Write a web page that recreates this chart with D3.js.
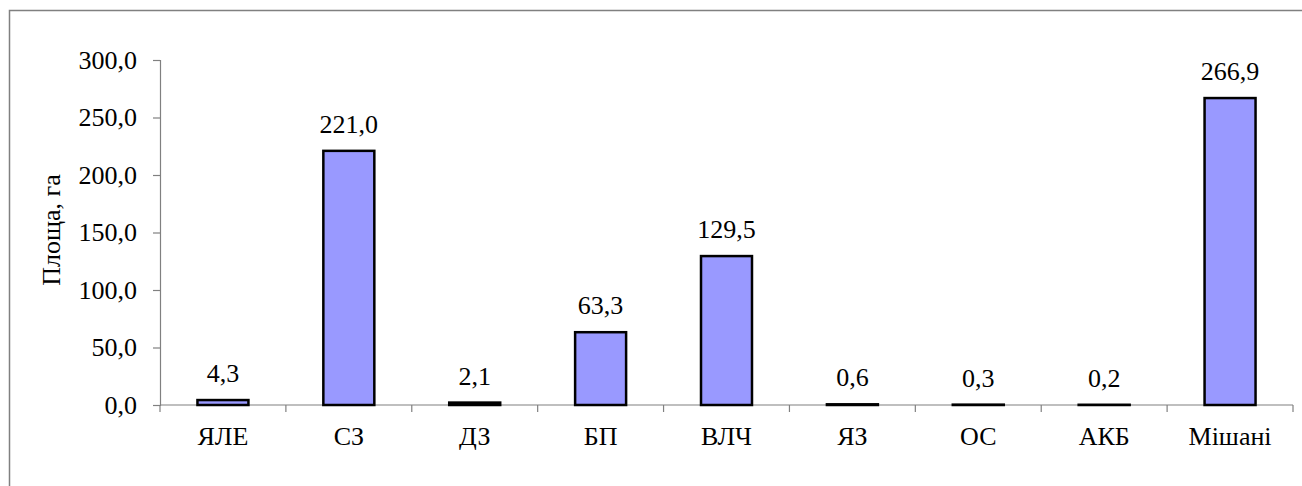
<!DOCTYPE html>
<html>
<head>
<meta charset="utf-8">
<script src="https://cdn.jsdelivr.net/npm/d3@7"></script>
<style>
  html, body { margin: 0; padding: 0; background: #fff; }
  svg { display: block; }
</style>
</head>
<body>
<svg id="chart" width="1302" height="486"></svg>
<script>
const categories = ["ЯЛЕ", "СЗ", "ДЗ", "БП", "ВЛЧ", "ЯЗ", "ОС", "АКБ", "Мішані"];
const values = [4.3, 221.0, 2.1, 63.3, 129.5, 0.6, 0.3, 0.2, 266.9];
const yTicks = [0, 50, 100, 150, 200, 250, 300];
const yTitle = "Площа, га";

(function () {
const svg = d3.select("#chart");
const FS = 26;
const FF = "'Liberation Serif', 'Times New Roman', serif";
const mLeft = 160, mRight = 1293, mTop = 60, mBottom = 405;

const locale = d3.formatLocale({ decimal: ",", thousands: " ", grouping: [3], currency: ["", ""] });
const fmt = locale.format(".1f");

// outer border
svg.append("rect")
  .attr("x", 9.5).attr("y", 10.5)
  .attr("width", 1320).attr("height", 500)
  .attr("fill", "none").attr("stroke", "#808080").attr("stroke-width", 1.5);

const x = d3.scaleBand().domain(categories).range([mLeft, mRight]).paddingInner(0).paddingOuter(0);
const y = d3.scaleLinear().domain([0, 300]).range([mBottom, mTop]);
const bw = x.bandwidth();
const barW = bw * 0.405;

// y axis
const yAxis = d3.axisLeft(y).tickValues(yTicks).tickFormat(fmt).tickSize(7).tickPadding(16);
const gy = svg.append("g").attr("transform", `translate(${mLeft},0)`).call(yAxis);
gy.attr("font-family", null).attr("font-size", null);
gy.select(".domain").attr("stroke", "#808080").attr("stroke-width", 1.2);
gy.selectAll(".tick line").attr("stroke", "#808080").attr("stroke-width", 1.2);
gy.selectAll(".tick text").style("font-size", FS + "px").style("font-family", FF).attr("fill", "#000");

// x axis line and boundary ticks
const bounds = d3.range(categories.length + 1).map(i => mLeft + i * bw);
svg.append("line")
  .attr("x1", mLeft).attr("x2", mRight).attr("y1", y(0)).attr("y2", y(0))
  .attr("stroke", "#808080").attr("stroke-width", 1.2);
svg.selectAll(".xtick").data(bounds).enter().append("line")
  .attr("class", "xtick")
  .attr("x1", d => d).attr("x2", d => d)
  .attr("y1", y(0)).attr("y2", y(0) + 7)
  .attr("stroke", "#808080").attr("stroke-width", 1.2);

// category labels
svg.selectAll(".xlab").data(categories).enter().append("text")
  .attr("class", "xlab")
  .attr("x", d => x(d) + bw / 2)
  .attr("y", 445)
  .attr("text-anchor", "middle")
  .style("font-size", FS + "px").style("font-family", FF)
  .text(d => d);

// bars
const data = categories.map((c, i) => ({ c, v: values[i] }));
svg.selectAll(".bar").data(data).enter().append("rect")
  .attr("class", "bar")
  .attr("x", d => x(d.c) + (bw - barW) / 2)
  .attr("y", d => y(d.v))
  .attr("width", barW)
  .attr("height", d => y(0) - y(d.v))
  .attr("fill", "#9999FF")
  .attr("stroke", "#000")
  .attr("stroke-width", 2.5);

// value labels
svg.selectAll(".vlab").data(data).enter().append("text")
  .attr("class", "vlab")
  .attr("x", d => x(d.c) + bw / 2)
  .attr("y", d => y(d.v) - 18)
  .attr("text-anchor", "middle")
  .style("font-size", FS + "px").style("font-family", FF)
  .text(d => fmt(d.v));

// y title
svg.append("text")
  .attr("transform", `translate(60,230) rotate(-90)`)
  .attr("text-anchor", "middle")
  .style("font-size", FS + "px").style("font-family", FF)
  .text(yTitle);
})();
</script>
</body>
</html>
